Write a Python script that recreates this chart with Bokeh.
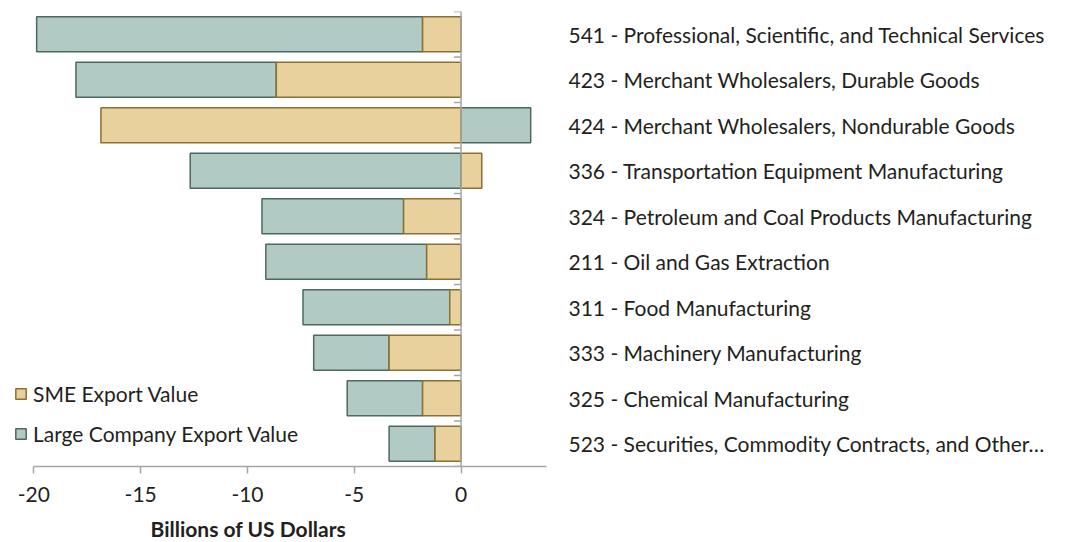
from bokeh.plotting import figure
from bokeh.models import (ColumnDataSource, FixedTicker, Legend, LegendItem, Span, Title)
from bokeh.embed import file_html
from bokeh.resources import INLINE

categories = [
    "541 - Professional, Scientific, and Technical Services",
    "423 - Merchant Wholesalers, Durable Goods",
    "424 - Merchant Wholesalers, Nondurable Goods",
    "336 - Transportation Equipment Manufacturing",
    "324 - Petroleum and Coal Products Manufacturing",
    "211 - Oil and Gas Extraction",
    "311 - Food Manufacturing",
    "333 - Machinery Manufacturing",
    "325 - Chemical Manufacturing",
    "523 - Securities, Commodity Contracts, and Other\u2026",
]
sme_values = [-1.80, -8.65, -16.86, 0.97, -2.69, -1.61, -0.53, -3.37, -1.80, -1.22]
large_values = [-18.07, -9.38, 3.26, -12.68, -6.63, -7.53, -6.87, -3.53, -3.53, -2.15]
x_ticks = [-20, -15, -10, -5, 0]
x_tick_labels = ["-20", "-15", "-10", "-5", "0"]

FONT = "Lato"
TXT = "#231F20"
SME_FILL, SME_LINE = "#E8D19C", "#8C7032"
LG_FILL, LG_LINE = "#B1CBC4", "#4D6861"
GRID = "#A6A6A6"

n = len(categories)
ypos = [n - i for i in range(n)]  # top to bottom

sme_left = [min(0, v) for v in sme_values]
sme_right = [max(0, v) for v in sme_values]
lg_start = [s if (s * l) > 0 else 0 for s, l in zip(sme_values, large_values)]
lg_end = [a + l for a, l in zip(lg_start, large_values)]
lg_left = [min(a, b) for a, b in zip(lg_start, lg_end)]
lg_right = [max(a, b) for a, b in zip(lg_start, lg_end)]

src = ColumnDataSource(dict(y=ypos, sl=sme_left, sr=sme_right, ll=lg_left, lr=lg_right))

p = figure(frame_width=534, frame_height=455, x_range=(-21, 4), y_range=(0.5, n + 0.5),
           y_axis_location="right", min_border_left=12, min_border_top=11,
           min_border_right=524, min_border_bottom=76,
           output_backend="svg", toolbar_location=None)
p.outline_line_color = None
p.grid.visible = False
p.background_fill_color = None
p.border_fill_color = "white"

BH = 0.77
r_lg = p.hbar(y="y", left="ll", right="lr", height=BH, source=src,
              fill_color=LG_FILL, line_color=LG_LINE, line_width=1.5)
r_sme = p.hbar(y="y", left="sl", right="sr", height=BH, source=src,
               fill_color=SME_FILL, line_color=SME_LINE, line_width=1.5)

# zero line with category boundary ticks
bounds = [i + 0.5 for i in range(n + 1)]
p.segment(x0=[-0.33] * len(bounds), x1=[0] * len(bounds), y0=bounds, y1=bounds,
          line_color=GRID, line_width=1.5)
p.add_layout(Span(location=0, dimension="height", line_color=GRID, line_width=1.5))

# x axis
xa = p.xaxis[0]
xa.ticker = FixedTicker(ticks=x_ticks)
xa.major_label_overrides = {t: s for t, s in zip(x_ticks, x_tick_labels)}
xa.bounds = (-20, 4)
xa.axis_line_color = GRID
xa.axis_line_width = 1.5
xa.major_tick_line_color = GRID
xa.major_tick_line_width = 1.5
xa.major_tick_out = 7
xa.major_tick_in = 0
xa.minor_tick_line_color = None
xa.major_label_text_font = FONT
xa.major_label_text_font_size = "21px"
xa.major_label_text_color = TXT
xa.major_label_standoff = 13

# y axis (category labels on the right)
ya = p.yaxis[0]
ya.ticker = FixedTicker(ticks=ypos)
ya.major_label_overrides = {y: c for y, c in zip(ypos, categories)}
ya.axis_line_color = None
ya.major_tick_line_color = None
ya.minor_tick_line_color = None
ya.major_tick_out = 0
ya.major_tick_in = 0
ya.major_label_standoff = 22
ya.major_label_text_font = FONT
ya.major_label_text_font_size = "21px"
ya.major_label_text_color = TXT

p.add_layout(Title(text="Billions of US Dollars", align="left", offset=138, standoff=19,
                   text_font=FONT, text_font_size="21px", text_font_style="bold",
                   text_color=TXT), "below")

legend = Legend(items=[LegendItem(label="SME Export Value", renderers=[r_sme]),
                       LegendItem(label="Large Company Export Value", renderers=[r_lg])],
                location=(2, 20), orientation="vertical",
                glyph_width=13, glyph_height=13, label_height=20, label_standoff=6,
                spacing=15, padding=0, margin=0,
                label_text_font=FONT, label_text_font_size="21px", label_text_color=TXT,
                background_fill_alpha=0, border_line_color=None)
p.add_layout(legend)

open("out.html", "w").write(file_html(p, INLINE))
